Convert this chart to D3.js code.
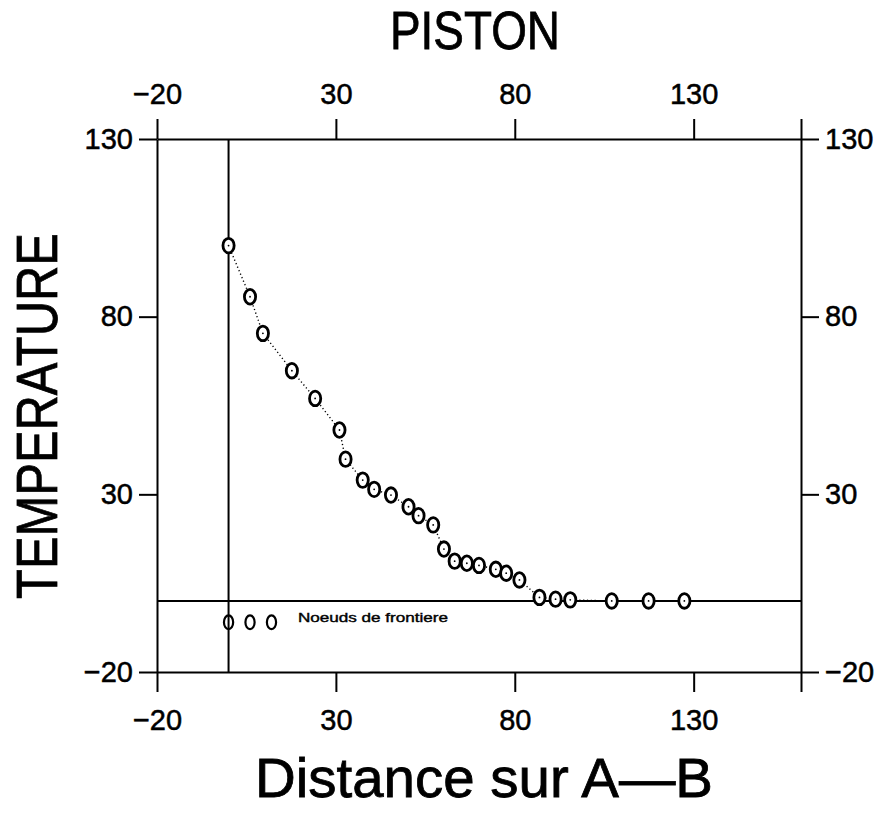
<!DOCTYPE html>
<html>
<head>
<meta charset="utf-8">
<script src="https://cdn.jsdelivr.net/npm/d3@7"></script>
<style>
  body { margin: 0; background: #fff; }
  svg { display: block; }
</style>
</head>
<body>
<div class="container"></div>
<script>
// distance along A-B and temperature at each node
var distance = [0, 6, 9.6, 17.7, 24.2, 31, 32.7, 37.5, 40.7, 45.4, 50.3, 53.1, 57.2,
  60.2, 63.2, 66.6, 70, 74.7, 77.6, 81.3, 86.9, 91.4, 95.5, 107.1, 117.4, 127.4];
var temperature = [100, 85.6, 75.3, 64.8, 57, 48.1, 39.9, 34, 31.4, 29.8, 26.5, 24, 21.4,
  14.6, 11.2, 10.6, 10, 8.9, 7.8, 5.9, 1, 0.5, 0.3, 0, 0, 0];

// legend symbols (boundary nodes)
var legendX = [0, 6, 12];
var legendY = -6;
var legendLabel = 'Noeuds de frontiere';

var xTicks = [-20, 30, 80, 130, 160];
var yTicks = [-20, 30, 80, 130];

var w = 893, h = 814;
var padLeft = 157, padRight = 801, padTop = 139, padBottom = 672;
var font = 'Liberation Sans, Arial, sans-serif';

var svg = d3.select('.container')
  .append('svg')
  .attr('width', w)
  .attr('height', h);

svg.append('rect').attr('width', w).attr('height', h).attr('fill', '#fff');

var xScale = d3.scaleLinear().domain([-20, 160]).range([padLeft, padRight]);
var yScale = d3.scaleLinear().domain([-20, 130]).range([padBottom, padTop]);

var fmt = function(d) { return d === 160 ? '' : d3.format('d')(d); };

/* Axes on all four sides */
var axes = [];
axes.push(svg.append('g')
  .attr('transform', 'translate(0,' + padBottom + ')')
  .call(d3.axisBottom(xScale).tickValues(xTicks).tickFormat(fmt).tickSize(20).tickSizeOuter(0).tickPadding(17)));

axes.push(svg.append('g')
  .attr('transform', 'translate(0,' + padTop + ')')
  .call(d3.axisTop(xScale).tickValues(xTicks).tickFormat(fmt).tickSize(20).tickSizeOuter(0).tickPadding(15)));

axes.push(svg.append('g')
  .attr('transform', 'translate(' + padLeft + ',0)')
  .call(d3.axisLeft(yScale).tickValues(yTicks).tickSize(18).tickSizeOuter(0).tickPadding(6)));

axes.push(svg.append('g')
  .attr('transform', 'translate(' + padRight + ',0)')
  .call(d3.axisRight(yScale).tickValues(yTicks).tickSize(18).tickSizeOuter(0).tickPadding(6)));

axes.forEach(function(g) {
  g.attr('font-size', null).attr('font-family', null);
  g.selectAll('path, line').attr('stroke', '#000').attr('stroke-width', 2);
  g.selectAll('text')
    .style('font-family', font)
    .style('font-size', '29px')
    .attr('fill', '#000')
    .attr('stroke', '#000')
    .attr('stroke-width', 0.5);
});

/* zero lines */
svg.append('line')
  .attr('x1', xScale(0)).attr('x2', xScale(0))
  .attr('y1', yScale(-20)).attr('y2', yScale(130))
  .attr('stroke', '#000').attr('stroke-width', 2);

svg.append('line')
  .attr('x1', xScale(-20)).attr('x2', xScale(160))
  .attr('y1', yScale(0)).attr('y2', yScale(0))
  .attr('stroke', '#000').attr('stroke-width', 2);

/* dotted curve */
var pts = distance.map(function(d, i) { return [d, temperature[i]]; });

var line = d3.line()
  .x(function(d) { return xScale(d[0]); })
  .y(function(d) { return yScale(d[1]); });

svg.append('path')
  .datum(pts)
  .attr('d', line)
  .attr('fill', 'none')
  .attr('stroke', '#000')
  .attr('stroke-width', 1.4)
  .attr('stroke-dasharray', '1.2,2.6');

/* node markers */
var nodes = svg.selectAll('g.node')
  .data(pts)
  .enter()
  .append('g')
  .attr('class', 'node')
  .attr('transform', function(d) { return 'translate(' + xScale(d[0]) + ',' + yScale(d[1]) + ')'; });

nodes.append('ellipse')
  .attr('rx', 5.6).attr('ry', 7.3)
  .attr('fill', '#fff')
  .attr('stroke', '#000')
  .attr('stroke-width', 2.8);

nodes.append('circle')
  .attr('r', 0.9)
  .attr('fill', '#000');

/* legend */
svg.selectAll('ellipse.leg')
  .data(legendX)
  .enter()
  .append('ellipse')
  .attr('class', 'leg')
  .attr('cx', function(d) { return xScale(d); })
  .attr('cy', yScale(legendY))
  .attr('rx', 4.6).attr('ry', 6.8)
  .attr('fill', 'none')
  .attr('stroke', '#000')
  .attr('stroke-width', 2.2);

svg.append('text')
  .attr('x', 298).attr('y', 622)
  .attr('font-family', font)
  .attr('font-size', '13px')
  .attr('stroke', '#000')
  .attr('stroke-width', 0.4)
  .attr('textLength', 150)
  .attr('lengthAdjust', 'spacingAndGlyphs')
  .text(legendLabel);

/* titles */
svg.append('text')
  .attr('x', 475).attr('y', 49)
  .attr('text-anchor', 'middle')
  .attr('font-family', font)
  .attr('font-size', '54px')
  .attr('stroke', '#000')
  .attr('stroke-width', 0.8)
  .attr('textLength', 170)
  .attr('lengthAdjust', 'spacingAndGlyphs')
  .text('PISTON');

svg.append('text')
  .attr('transform', 'translate(57,416) rotate(-90)')
  .attr('text-anchor', 'middle')
  .attr('font-family', font)
  .attr('font-size', '57px')
  .attr('stroke', '#000')
  .attr('stroke-width', 0.8)
  .attr('textLength', 366)
  .attr('lengthAdjust', 'spacingAndGlyphs')
  .text('TEMPERATURE');

svg.append('text')
  .attr('x', 484).attr('y', 797)
  .attr('text-anchor', 'middle')
  .attr('font-family', font)
  .attr('font-size', '56px')
  .attr('stroke', '#000')
  .attr('stroke-width', 0.8)
  .attr('textLength', 458)
  .attr('lengthAdjust', 'spacingAndGlyphs')
  .text('Distance sur A\u2014B');
</script>
</body>
</html>
